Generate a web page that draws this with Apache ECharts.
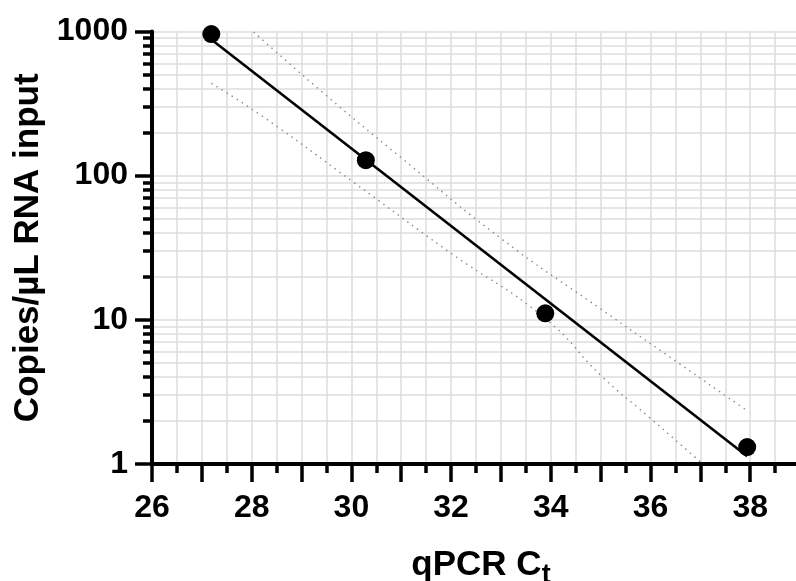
<!DOCTYPE html>
<html>
<head>
<meta charset="utf-8">
<script src="https://cdn.jsdelivr.net/npm/echarts@6/dist/echarts.min.js"></script>
<style>
html,body{margin:0;padding:0;background:#fff;}
#chart{width:796px;height:581px;}
</style>
</head>
<body>
<div id="chart"></div>
<script>
// ---- data ----
const ctValues = [27.19, 30.29, 33.89, 37.94];
const copiesValues = [960, 128, 11.1, 1.31];

const fitX = [27.19, 37.94];
const fitY = [880, 1.13];

const upperBandX = [28.04, 29.5, 31.0, 33.0, 35.0, 36.5, 37.94];
const upperBandY = [990, 359, 133, 36.7, 11.9, 5.19, 2.34];

const lowerBandX = [27.19, 28.23, 30.03, 31.96, 33.89, 35.03, 35.96, 37.05];
const lowerBandY = [437, 256, 90.8, 29.6, 10.2, 4.03, 2.13, 1.0];

const xLabelValues = [26, 28, 30, 32, 34, 36, 38];
const yLabelValues = [1, 10, 100, 1000];
const yMinorValues = [2, 3, 4, 5, 6, 7, 8, 9, 20, 30, 40, 50, 60, 70, 80, 90, 200, 300, 400, 500, 600, 700, 800, 900];

const xTitle = 'qPCR C';
const xTitleSub = 't';
const yTitle = 'Copies/µL RNA input';

// ---- chart ----
const FONT = "'Liberation Sans', Arial, Helvetica, sans-serif";
const GRID_COLOR = '#dddddd';

function pairs(xs, ys) { return xs.map((x, i) => [x, ys[i]]); }

const chart = echarts.init(document.getElementById('chart'), null, {renderer: 'canvas'});

const option = {
  backgroundColor: '#ffffff',
  animation: false,
  grid: {left: 152, top: 31.5, right: -14, bottom: 117, containLabel: false, outerBoundsMode: 'none'},
  xAxis: {
    type: 'value',
    min: 26, max: 39.2, interval: 1,
    name: '{a|' + xTitle + '}{b|' + xTitleSub + '}',
    nameLocation: 'middle',
    nameGap: 78,
    nameTextStyle: {
      rich: {
        a: {fontFamily: FONT, fontSize: 35, fontWeight: 'bold', color: '#000'},
        b: {fontFamily: FONT, fontSize: 27, fontWeight: 'bold', color: '#000', padding: [20, 0, 0, 0]}
      }
    },
    axisLine: {show: true, onZero: false, lineStyle: {color: '#000', width: 4}},
    axisTick: {show: true, length: 18, lineStyle: {color: '#000', width: 3.5}},
    minorTick: {show: true, splitNumber: 2, length: 9, lineStyle: {color: '#000', width: 3.5}},
    axisLabel: {
      customValues: xLabelValues,
      margin: 28,
      fontFamily: FONT, fontSize: 32, fontWeight: 'bold', color: '#000',
      formatter: v => String(Math.round(v))
    },
    splitLine: {show: true, lineStyle: {color: GRID_COLOR, width: 1.5}},
    minorSplitLine: {show: true, lineStyle: {color: GRID_COLOR, width: 1.5}}
  },
  yAxis: [
    {
      type: 'log', logBase: 10, min: 1, max: 1000,
      position: 'left',
      name: yTitle,
      nameLocation: 'middle',
      nameGap: 106,
      nameTextStyle: {fontFamily: FONT, fontSize: 35, fontWeight: 'bold', color: '#000'},
      axisLine: {show: true, onZero: false, lineStyle: {color: '#000', width: 4}},
      axisTick: {show: true, customValues: yLabelValues, length: 17, lineStyle: {color: '#000', width: 3.5}},
      minorTick: {show: false},
      axisLabel: {
        customValues: yLabelValues,
        margin: 24,
        fontFamily: FONT, fontSize: 32, fontWeight: 'bold', color: '#000',
        formatter: v => String(Math.round(v))
      },
      splitLine: {show: true, lineStyle: {color: GRID_COLOR, width: 1.5}}
    },
    {
      type: 'log', logBase: 10, min: 1, max: 1000,
      position: 'left',
      axisLine: {show: false},
      axisTick: {show: true, customValues: yMinorValues, length: 9, lineStyle: {color: '#000', width: 3.5}},
      minorTick: {show: false},
      axisLabel: {show: false},
      splitLine: {show: true, lineStyle: {color: GRID_COLOR, width: 1.5}}
    }
  ],
  series: [
    {
      type: 'line', name: 'upper band', data: pairs(upperBandX, upperBandY),
      smooth: true, showSymbol: false, symbol: 'none',
      lineStyle: {color: '#8a8a8a', width: 1.4, type: [1.5, 4.5]}, z: 3
    },
    {
      type: 'line', name: 'lower band', data: pairs(lowerBandX, lowerBandY),
      smooth: true, showSymbol: false, symbol: 'none',
      lineStyle: {color: '#8a8a8a', width: 1.4, type: [1.5, 4.5]}, z: 3
    },
    {
      type: 'line', name: 'fit', data: pairs(fitX, fitY),
      showSymbol: false, symbol: 'none',
      lineStyle: {color: '#000', width: 2.6}, z: 4
    },
    {
      type: 'scatter', name: 'standards', data: pairs(ctValues, copiesValues),
      symbol: 'circle', symbolSize: 18,
      itemStyle: {color: '#000', opacity: 1}, z: 5, clip: false
    }
  ]
};
chart.setOption(option);
</script>
</body>
</html>
